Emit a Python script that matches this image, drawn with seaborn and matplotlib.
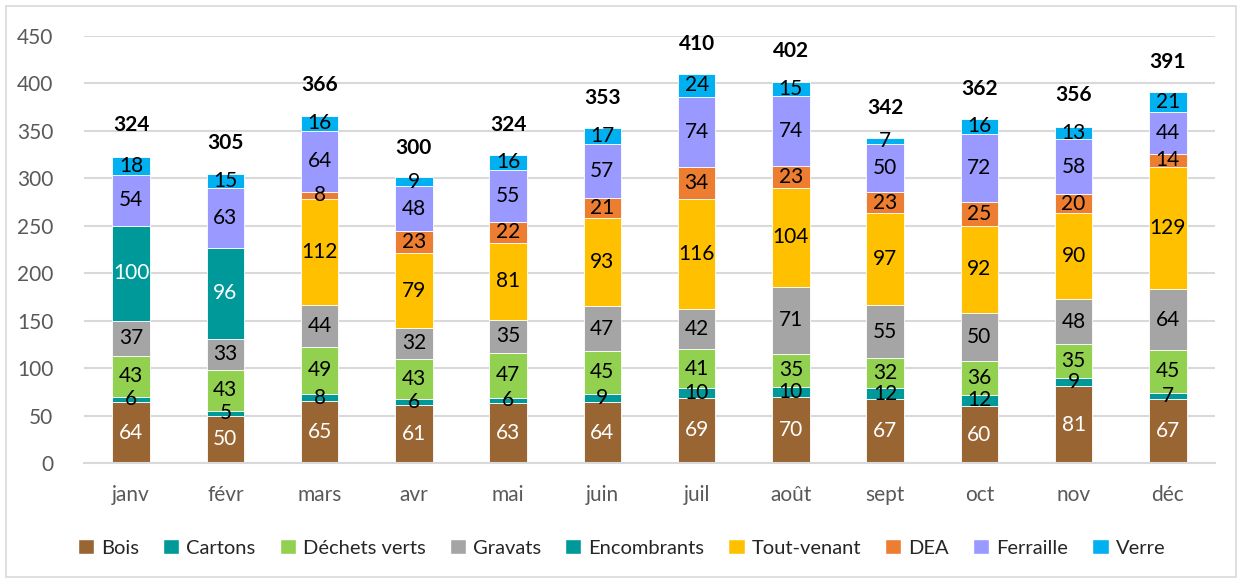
import numpy as np
import pandas as pd
import matplotlib
matplotlib.use("Agg")
import matplotlib.pyplot as plt
import seaborn as sns
from matplotlib.patches import Patch, Rectangle

# ------------------------------
# DATA
# ------------------------------
mois = ["janv", "févr", "mars", "avr", "mai", "juin",
        "juil", "août", "sept", "oct", "nov", "déc"]

bois = [64, 50, 65, 61, 63, 64, 69, 70, 67, 60, 81, 67]
cartons = [6, 5, 8, 6, 6, 9, 10, 10, 12, 12, 9, 7]
dechets_verts = [43, 43, 49, 43, 47, 45, 41, 35, 32, 36, 35, 45]
gravats = [37, 33, 44, 32, 35, 47, 42, 71, 55, 50, 48, 64]
encombrants = [100, 96, 0, 0, 0, 0, 0, 0, 0, 0, 0, 0]
tout_venant = [0, 0, 112, 79, 81, 93, 116, 104, 97, 92, 90, 129]
dea = [0, 0, 8, 23, 22, 21, 34, 23, 23, 25, 20, 14]
ferraille = [54, 63, 64, 48, 55, 57, 74, 74, 50, 72, 58, 44]
verre = [18, 15, 16, 9, 16, 17, 24, 15, 7, 16, 13, 21]

totaux = [324, 305, 366, 300, 324, 353, 410, 402, 342, 362, 356, 391]

categories = ["Bois", "Cartons", "Déchets verts", "Gravats", "Encombrants",
              "Tout-venant", "DEA", "Ferraille", "Verre"]
series = [bois, cartons, dechets_verts, gravats, encombrants,
          tout_venant, dea, ferraille, verre]
couleurs = ["#996633", "#009999", "#92D050", "#A5A5A5", "#009999",
            "#FFC000", "#ED7D31", "#9999FF", "#00B0F0"]
label_colors = ["white", "black", "black", "black", "white",
                "black", "black", "black", "black"]

# ------------------------------
# PLOT
# ------------------------------
sns.set_style("white")
plt.rcParams["font.family"] = ["Lato", "DejaVu Sans"]

fig = plt.figure(figsize=(12.43, 5.81), dpi=100)
ax = fig.add_axes([84 / 1243, 118 / 581, 1131 / 1243, 427 / 581])

bottom = np.zeros(len(mois))
for cat, vals, col, lc in zip(categories, series, couleurs, label_colors):
    vals = np.array(vals, dtype=float)
    sns.barplot(x=mois, y=vals, bottom=bottom, color=col, width=0.4,
                edgecolor="white", linewidth=0.6, ax=ax, saturation=1)
    cont = ax.containers[-1]
    labels = [str(int(v)) if v > 0 else "" for v in vals]
    ax.bar_label(cont, labels=labels, label_type="center",
                 color=lc, fontsize=15)
    bottom += vals

# totals above bars
for i, t in enumerate(totaux):
    ax.text(i, t + 32, str(t), ha="center", va="center",
            fontsize=15, fontweight="bold", color="black")

ax.set_ylim(0, 450)
ax.set_xlim(-0.5, len(mois) - 0.5)
ax.set_yticks(range(0, 451, 50))
ax.yaxis.grid(True, color="#D9D9D9", linewidth=1.5)
ax.set_axisbelow(True)
for s in ["top", "right", "left"]:
    ax.spines[s].set_visible(False)
ax.spines["bottom"].set_color("#D9D9D9")
ax.spines["bottom"].set_linewidth(1.5)
ax.tick_params(axis="both", length=0, labelsize=15, colors="#595959")
ax.tick_params(axis="y", pad=22)
ax.tick_params(axis="x", pad=16)
ax.set_xlabel("")
ax.set_ylabel("")

handles = [Patch(facecolor=c, label=l) for c, l in zip(couleurs, categories)]
fig.legend(handles=handles, loc="center", bbox_to_anchor=(0.5, 0.057),
           ncol=9, frameon=False, fontsize=14.5, handlelength=0.8,
           handleheight=0.8, handletextpad=0.35, columnspacing=1.2)

# light border around the chart
fig.patches.append(Rectangle((6 / 1243, 4 / 581), 1230 / 1243, 571 / 581,
                             transform=fig.transFigure, fill=False,
                             edgecolor="#D9D9D9", linewidth=1.2))

fig.savefig("out.png", dpi=100)
